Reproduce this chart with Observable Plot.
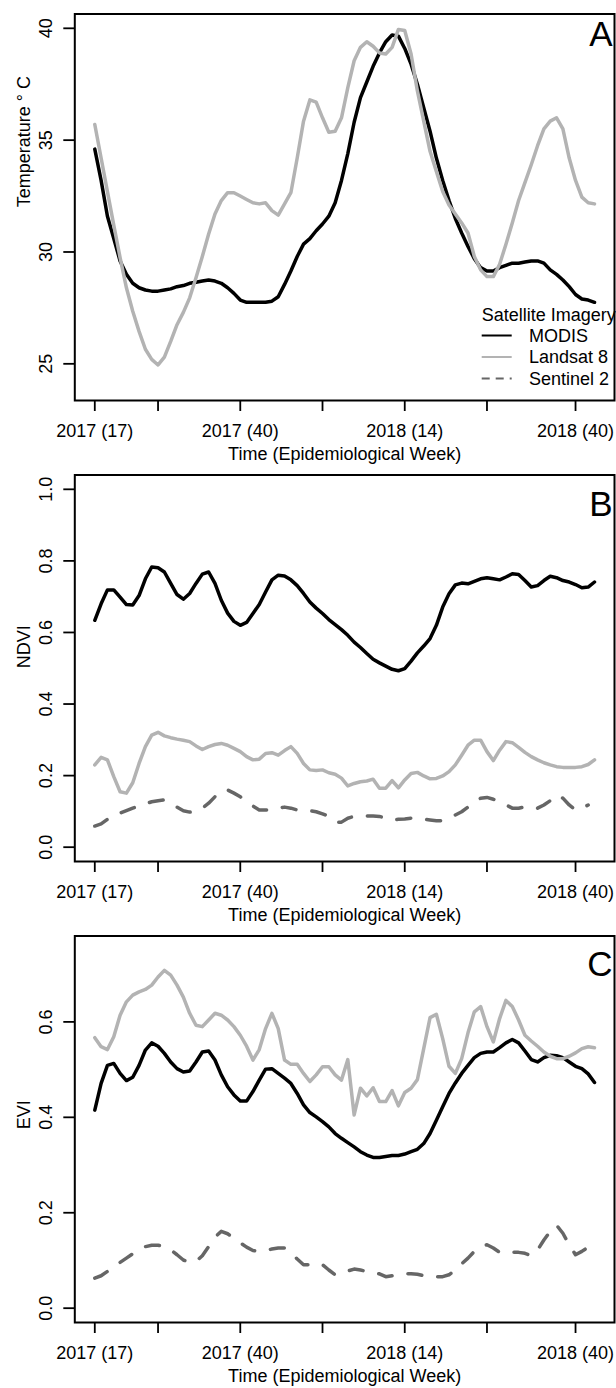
<!DOCTYPE html>
<html>
<head>
<meta charset="utf-8">
<script src="https://cdn.jsdelivr.net/npm/d3@7"></script>
<script src="https://cdn.jsdelivr.net/npm/@observablehq/plot@0.6"></script>
<style>
  body { margin: 0; background: #fff; }
  #chart svg { display: block; overflow: visible; }
</style>
</head>
<body>
<div id="chart"></div>
<script>
// Weekly series, one value per epidemiological week starting at 2017 week 17.
const tickWeeks = [0, 10, 23, 36, 49, 62, 76];
const tickLabels = ["2017 (17)", "", "2017 (40)", "", "2018 (14)", "", "2018 (40)"];

const seriesNames = ["MODIS", "Landsat 8", "Sentinel 2"];

const modisTemp = [34.6, 33.2, 31.6, 30.6, 29.6, 29.0, 28.6, 28.4, 28.3, 28.25,
  28.25, 28.3, 28.35, 28.45, 28.5, 28.6, 28.65, 28.7, 28.75, 28.7,
  28.6, 28.4, 28.15, 27.85, 27.75, 27.75, 27.75, 27.75, 27.8, 28.0,
  28.55, 29.15, 29.8, 30.35, 30.6, 30.95, 31.25, 31.6, 32.2, 33.2,
  34.4, 35.8, 36.9, 37.6, 38.3, 38.9, 39.4, 39.7, 39.65, 39.1,
  38.4, 37.5, 36.45, 35.4, 34.2, 33.2, 32.3, 31.5, 30.85, 30.25,
  29.7, 29.3, 29.15, 29.15, 29.3, 29.4, 29.5, 29.5, 29.55, 29.6,
  29.6, 29.5, 29.2, 29.0, 28.75, 28.45, 28.1, 27.9, 27.85, 27.75];

const landsatTemp = [35.7, 34.2, 32.7, 31.2, 29.75, 28.4, 27.35, 26.45, 25.65, 25.2,
  24.95, 25.3, 26.0, 26.75, 27.3, 27.95, 28.85, 29.8, 30.8, 31.7,
  32.3, 32.65, 32.65, 32.5, 32.35, 32.2, 32.15, 32.2, 31.85, 31.65,
  32.15, 32.65, 34.2, 35.85, 36.8, 36.7, 36.0, 35.35, 35.4, 36.0,
  37.35, 38.55, 39.15, 39.4, 39.2, 38.9, 38.85, 39.15, 39.95, 39.9,
  38.85, 37.2, 35.85, 34.5, 33.6, 32.7, 32.1, 31.7, 31.3, 30.85,
  29.8, 29.2, 28.9, 28.9, 29.45, 30.35, 31.3, 32.3, 33.1, 33.9,
  34.75, 35.5, 35.85, 36.0, 35.5, 34.2, 33.2, 32.45, 32.2, 32.15];

const modisNdvi = [0.634, 0.680, 0.719, 0.719, 0.699, 0.678, 0.677, 0.703, 0.750, 0.783,
  0.781, 0.769, 0.737, 0.706, 0.693, 0.709, 0.737, 0.763, 0.769, 0.737,
  0.690, 0.654, 0.631, 0.620, 0.628, 0.653, 0.678, 0.713, 0.747, 0.760,
  0.758, 0.747, 0.731, 0.709, 0.685, 0.668, 0.653, 0.636, 0.622, 0.608,
  0.592, 0.573, 0.558, 0.541, 0.525, 0.515, 0.506, 0.497, 0.493, 0.499,
  0.520, 0.543, 0.562, 0.583, 0.620, 0.671, 0.708, 0.733, 0.738, 0.736,
  0.743, 0.750, 0.753, 0.750, 0.747, 0.755, 0.764, 0.762, 0.745, 0.727,
  0.731, 0.745, 0.757, 0.753, 0.745, 0.741, 0.734, 0.725, 0.727, 0.741];

const landsatNdvi = [0.230, 0.251, 0.244, 0.197, 0.155, 0.151, 0.180, 0.234, 0.281, 0.313,
  0.321, 0.311, 0.306, 0.302, 0.299, 0.295, 0.283, 0.273, 0.281, 0.287,
  0.290, 0.285, 0.276, 0.267, 0.253, 0.244, 0.246, 0.262, 0.264, 0.257,
  0.270, 0.281, 0.262, 0.234, 0.216, 0.214, 0.216, 0.208, 0.204, 0.193,
  0.171, 0.178, 0.183, 0.185, 0.190, 0.165, 0.165, 0.186, 0.166, 0.188,
  0.206, 0.209, 0.199, 0.191, 0.192, 0.199, 0.211, 0.230, 0.257, 0.285,
  0.299, 0.299, 0.267, 0.242, 0.271, 0.295, 0.292, 0.279, 0.265, 0.253,
  0.244, 0.236, 0.230, 0.225, 0.223, 0.223, 0.223, 0.225, 0.231, 0.244];

const sentinelNdvi = [0.059, 0.065, 0.078, 0.090, 0.095, 0.102, 0.109, 0.115, 0.121, 0.127,
  0.130, 0.132, 0.123, 0.112, 0.102, 0.098, 0.099, 0.109, 0.123, 0.141,
  0.157, 0.160, 0.151, 0.141, 0.127, 0.115, 0.104, 0.104, 0.104, 0.109,
  0.112, 0.109, 0.104, 0.102, 0.102, 0.099, 0.093, 0.086, 0.070, 0.070,
  0.081, 0.086, 0.087, 0.087, 0.087, 0.086, 0.081, 0.076, 0.078, 0.079,
  0.081, 0.081, 0.078, 0.076, 0.074, 0.074, 0.081, 0.090, 0.099, 0.112,
  0.125, 0.137, 0.139, 0.134, 0.125, 0.118, 0.109, 0.109, 0.113, 0.113,
  0.109, 0.118, 0.130, 0.146, 0.137, 0.118, 0.104, 0.109, 0.118];

const modisEvi = [0.415, 0.471, 0.509, 0.513, 0.492, 0.477, 0.484, 0.509, 0.541, 0.556,
  0.549, 0.534, 0.516, 0.502, 0.495, 0.497, 0.516, 0.537, 0.539, 0.520,
  0.489, 0.464, 0.447, 0.434, 0.434, 0.454, 0.478, 0.501, 0.502, 0.492,
  0.482, 0.471, 0.450, 0.426, 0.410, 0.401, 0.391, 0.380, 0.366, 0.356,
  0.347, 0.338, 0.328, 0.321, 0.316, 0.316, 0.318, 0.320, 0.320, 0.323,
  0.328, 0.333, 0.345, 0.366, 0.394, 0.422, 0.450, 0.472, 0.492, 0.509,
  0.525, 0.534, 0.537, 0.537, 0.546, 0.556, 0.563, 0.556, 0.539, 0.521,
  0.516, 0.525, 0.530, 0.529, 0.525, 0.516, 0.507, 0.502, 0.491, 0.473];

const landsatEvi = [0.567, 0.548, 0.542, 0.569, 0.614, 0.642, 0.656, 0.663, 0.668, 0.677,
  0.694, 0.708, 0.698, 0.677, 0.652, 0.618, 0.593, 0.590, 0.604, 0.618,
  0.614, 0.604, 0.590, 0.572, 0.549, 0.520, 0.542, 0.586, 0.618, 0.586,
  0.520, 0.511, 0.511, 0.492, 0.475, 0.489, 0.506, 0.506, 0.489, 0.478,
  0.521, 0.405, 0.461, 0.445, 0.462, 0.433, 0.433, 0.456, 0.424, 0.452,
  0.461, 0.479, 0.544, 0.609, 0.616, 0.565, 0.507, 0.492, 0.523, 0.577,
  0.621, 0.632, 0.590, 0.558, 0.607, 0.645, 0.632, 0.604, 0.572, 0.560,
  0.549, 0.537, 0.528, 0.523, 0.523, 0.528, 0.535, 0.544, 0.548, 0.546];

const sentinelEvi = [0.063, 0.068, 0.077, 0.087, 0.096, 0.105, 0.114, 0.122, 0.129, 0.132,
  0.132, 0.129, 0.122, 0.112, 0.101, 0.096, 0.098, 0.110, 0.129, 0.149,
  0.161, 0.156, 0.147, 0.137, 0.128, 0.121, 0.119, 0.121, 0.124, 0.126,
  0.126, 0.117, 0.103, 0.091, 0.091, 0.094, 0.091, 0.080, 0.070, 0.073,
  0.078, 0.082, 0.080, 0.077, 0.075, 0.072, 0.066, 0.068, 0.070, 0.072,
  0.072, 0.071, 0.068, 0.066, 0.066, 0.066, 0.070, 0.080, 0.093, 0.105,
  0.119, 0.129, 0.133, 0.126, 0.117, 0.115, 0.117, 0.117, 0.115, 0.110,
  0.122, 0.143, 0.161, 0.174, 0.157, 0.133, 0.112, 0.119, 0.128];

// Line styles per satellite
const styles = {
  "MODIS":      {stroke: "#000000", dash: null},
  "Landsat 8":  {stroke: "#b3b3b3", dash: null},
  "Sentinel 2": {stroke: "#666666", dash: "14,16"}
};

const FONT = "'Liberation Sans', Arial, Helvetica, sans-serif";
const W = 616;
const margin = {top: 13.5, right: 2, left: 74.3};
const frameHeight = 386.5;
// x extends 4% beyond the data range on each side
const xDomain = [-3.16, 82.16];

function panel({letter, letterBaseline, ylabel, yDomain, yTicks, yFormat, series, legend, marginBottom = 61}) {
  const lines = series.map(([name, values]) =>
    Plot.line(values, {
      x: (d, i) => i,
      y: d => d,
      stroke: styles[name].stroke,
      strokeWidth: 3.5,
      strokeDasharray: styles[name].dash,
      strokeLinecap: "round",
      strokeLinejoin: "round"
    })
  );

  const svg = Plot.plot({
    width: W,
    height: margin.top + frameHeight + marginBottom,
    marginTop: margin.top,
    marginRight: margin.right,
    marginBottom,
    marginLeft: margin.left,
    style: {fontFamily: FONT, fontSize: "18px", background: "transparent", color: "#000", overflow: "visible"},
    x: {domain: xDomain, label: null},
    y: {domain: yDomain, label: null},
    marks: [
      ...lines,
      Plot.frame({stroke: "#000", strokeWidth: 2}),
      Plot.axisX({
        ticks: tickWeeks,
        tickSize: 11,
        tickPadding: 13,
        strokeWidth: 1.8,
        tickFormat: d => tickLabels[tickWeeks.indexOf(d)],
        label: null
      }),
      Plot.axisY({
        ticks: yTicks,
        tickSize: 11,
        strokeWidth: 1.8,
        tickFormat: () => "",
        label: null
      }),
      // vertical tick labels on the y axis, reading bottom to top
      Plot.text(yTicks, {
        y: d => d,
        text: yFormat,
        frameAnchor: "left",
        dx: -23.3,
        rotate: -90,
        textAnchor: "middle",
        lineAnchor: "bottom",
        fontSize: 18
      }),
      Plot.text([ylabel], {
        frameAnchor: "left", dx: -44.5, rotate: -90,
        lineAnchor: "bottom", fontSize: 18
      }),
      Plot.text(["Time (Epidemiological Week)"], {
        frameAnchor: "bottom", dy: 59, lineAnchor: "bottom", fontSize: 18
      }),
      Plot.text([letter], {
        frameAnchor: "top-right", dx: -2, dy: letterBaseline - margin.top,
        textAnchor: "end", lineAnchor: "bottom", fontSize: 35
      })
    ]
  });

  if (legend) {
    const g = d3.select(svg).append("g")
      .attr("font-family", FONT)
      .attr("font-size", 18)
      .attr("text-anchor", "start")
      .attr("fill", "#000");
    const x0 = 481.7;
    g.append("text").attr("x", x0).attr("y", 315).attr("dy", "0.35em").text("Satellite Imagery");
    seriesNames.forEach((name, k) => {
      const y = 335.5 + k * 21.5;
      g.append("line")
        .attr("x1", x0).attr("x2", x0 + 30).attr("y1", y).attr("y2", y)
        .attr("stroke", styles[name].stroke)
        .attr("stroke-width", 2)
        .attr("stroke-dasharray", styles[name].dash ? "8,6" : null);
      g.append("text").attr("x", 529).attr("y", y).attr("dy", "0.35em").text(name);
    });
  }
  return svg;
}

const chart = document.getElementById("chart");

chart.appendChild(panel({
  letter: "A", letterBaseline: 45,
  ylabel: "Temperature \u00b0 C",
  yDomain: [23.36, 40.64],
  yTicks: [25, 30, 35, 40],
  yFormat: d => String(d),
  series: [["MODIS", modisTemp], ["Landsat 8", landsatTemp]],
  legend: true
}));

chart.appendChild(panel({
  letter: "B", letterBaseline: 54,
  ylabel: "NDVI",
  yDomain: [-0.04, 1.04],
  yTicks: [0, 0.2, 0.4, 0.6, 0.8, 1.0],
  yFormat: d => d.toFixed(1),
  series: [["MODIS", modisNdvi], ["Landsat 8", landsatNdvi], ["Sentinel 2", sentinelNdvi]]
}));

chart.appendChild(panel({
  letter: "C", letterBaseline: 53,
  ylabel: "EVI",
  yDomain: [-0.03, 0.78],
  yTicks: [0, 0.2, 0.4, 0.6],
  yFormat: d => d.toFixed(1),
  series: [["MODIS", modisEvi], ["Landsat 8", landsatEvi], ["Sentinel 2", sentinelEvi]],
  marginBottom: 66
}));
</script>
</body>
</html>
